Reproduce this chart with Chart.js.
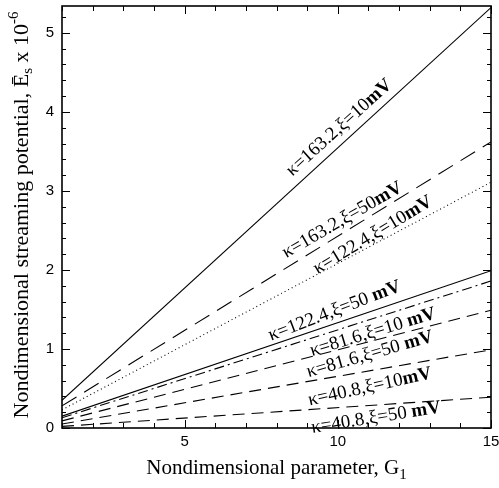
<!DOCTYPE html>
<html>
<head>
<meta charset="utf-8">
<script src="https://cdn.jsdelivr.net/npm/chart.js@4/dist/chart.umd.min.js"></script>
<style>
  html, body { margin: 0; padding: 0; background: #fff; }
</style>
</head>
<body>
<canvas id="chart" width="499" height="488"></canvas>
<script>
'use strict';

// data: straight lines from G1 = 1 to G1 = 15
var gValues = [1, 15];
var k163z10 = [0.35, 5.32];
var k163z50 = [0.28, 3.62];
var k122z10 = [0.23, 3.11];
var k122z50 = [0.15, 1.99];
var k82z10 = [0.13, 1.86];
var k82z50 = [0.09, 1.49];
var k41z10 = [0.05, 0.99];
var k41z50 = [0.02, 0.39];

var xTickLabels = [5, 10, 15];
var yTickLabels = [0, 1, 2, 3, 4, 5];

var SERIF = '"Liberation Serif", "Times New Roman", serif';
var SANS = '"Liberation Sans", Arial, sans-serif';

function points(ys) {
  return gValues.map(function (g, i) { return { x: g, y: ys[i] }; });
}

function ds(label, ys, dash) {
  return {
    label: label,
    data: points(ys),
    borderColor: '#000',
    borderWidth: 1.1,
    borderDash: dash,
    pointRadius: 0,
    fill: false,
    tension: 0
  };
}

// curve labels: [plain, bold], position in data units, angle in degrees
var curveLabels = [
  { t: ['\u03ba=163.2,\u03be=10', 'mV'], x: 10.05, y: 3.80, a: -42 },
  { t: ['\u03ba=163.2,\u03be=50', 'mV'], x: 10.15, y: 2.63, a: -30 },
  { t: ['\u03ba=122.4,\u03be=10', 'mV'], x: 11.15, y: 2.44, a: -31 },
  { t: ['\u03ba=122.4,\u03be=50 ', 'mV'], x: 9.9, y: 1.48, a: -21 },
  { t: ['\u03ba=81.6,\u03be=10 ', 'mV'], x: 11.15, y: 1.21, a: -17 },
  { t: ['\u03ba=81.6,\u03be=50 ', 'mV'], x: 11.05, y: 0.93, a: -16 },
  { t: ['\u03ba=40.8,\u03be=10', 'mV'], x: 11.05, y: 0.52, a: -12.5 },
  { t: ['\u03ba=40.8,\u03be=50 ', 'mV'], x: 11.25, y: 0.13, a: -9 }
];

function drawParts(ctx, parts, cx, cy) {
  // parts: [text, font, dy]
  var total = 0;
  parts.forEach(function (p) { ctx.font = p[1]; total += ctx.measureText(p[0]).width; });
  var x = cx - total / 2;
  parts.forEach(function (p) {
    ctx.font = p[1];
    ctx.fillText(p[0], x, cy + (p[2] || 0));
    x += ctx.measureText(p[0]).width;
  });
}

var framePlugin = {
  id: 'frame',
  afterDraw: function (chart) {
    var ctx = chart.ctx;
    var a = chart.chartArea;
    var xs = chart.scales.x;
    var ys = chart.scales.y;

    ctx.save();
    ctx.strokeStyle = '#000';
    ctx.fillStyle = '#000';
    ctx.lineWidth = 1;
    ctx.setLineDash([]);

    function seg(x1, y1, x2, y2) {
      ctx.beginPath();
      ctx.moveTo(x1, y1);
      ctx.lineTo(x2, y2);
      ctx.stroke();
    }

    // inward ticks on all four sides
    for (var g = 1; g <= 15; g++) {
      var px = Math.round(xs.getPixelForValue(g)) + 0.5;
      var len = xTickLabels.indexOf(g) >= 0 ? 8 : 5;
      seg(px, a.bottom, px, a.bottom - len);
      seg(px, a.top, px, a.top + len);
    }
    for (var k = 0; k <= 26; k++) {
      var v = k * 0.2;
      var py = Math.round(ys.getPixelForValue(v)) + 0.5;
      var major = k % 5 === 0;
      seg(a.left, py, a.left + (major ? 8 : 4), py);
      seg(a.right, py, a.right - (major ? 8 : 4), py);
    }

    ctx.lineWidth = 1.6;
    ctx.strokeRect(a.left, a.top, a.right - a.left, a.bottom - a.top);

    // tick labels
    ctx.font = '15px ' + SANS;
    ctx.textBaseline = 'middle';
    ctx.textAlign = 'center';
    xTickLabels.forEach(function (v) {
      ctx.fillText(String(v), xs.getPixelForValue(v), a.bottom + 14);
    });
    ctx.textAlign = 'right';
    yTickLabels.forEach(function (v) {
      ctx.fillText(String(v), a.left - 8, ys.getPixelForValue(v));
    });
    ctx.textAlign = 'left';

    // curve labels
    curveLabels.forEach(function (l) {
      ctx.save();
      ctx.translate(xs.getPixelForValue(l.x), ys.getPixelForValue(l.y));
      ctx.rotate(l.a * Math.PI / 180);
      drawParts(ctx, [
        [l.t[0], '19px ' + SERIF, 0],
        [l.t[1], 'bold 19px ' + SERIF, 0]
      ], 0, 0);
      ctx.restore();
    });

    // axis titles
    ctx.textBaseline = 'alphabetic';
    drawParts(ctx, [
      ['Nondimensional parameter, G', '21px ' + SERIF, 0],
      ['1', '15px ' + SERIF, 5]
    ], (a.left + a.right) / 2, 474);

    ctx.save();
    ctx.translate(28, (a.top + a.bottom) / 2 - 2);
    ctx.rotate(-Math.PI / 2);
    drawParts(ctx, [
      ['Nondimensional streaming potential, \u0112', '22px ' + SERIF, 0],
      ['s', '15px ' + SERIF, 4],
      [' x 10', '22px ' + SERIF, 0],
      ['-6', '15px ' + SERIF, -10]
    ], 0, 0);
    ctx.restore();

    ctx.restore();
  }
};

new Chart(document.getElementById('chart').getContext('2d'), {
  type: 'line',
  data: {
    datasets: [
      ds('\u03ba=163.2, \u03be=10 mV', k163z10, []),
      ds('\u03ba=163.2, \u03be=50 mV', k163z50, [17, 9]),
      ds('\u03ba=122.4, \u03be=10 mV', k122z10, [1, 3]),
      ds('\u03ba=122.4, \u03be=50 mV', k122z50, []),
      ds('\u03ba=81.6, \u03be=10 mV', k82z10, [10, 4, 2, 4]),
      ds('\u03ba=81.6, \u03be=50 mV', k82z50, [12, 7]),
      ds('\u03ba=40.8, \u03be=10 mV', k41z10, [12, 7]),
      ds('\u03ba=40.8, \u03be=50 mV', k41z50, [12, 7])
    ]
  },
  options: {
    responsive: false,
    animation: false,
    layout: { padding: { left: 0, top: 6, right: 8, bottom: 0 } },
    plugins: { legend: { display: false }, tooltip: { enabled: false } },
    scales: {
      x: {
        type: 'linear',
        min: 1,
        max: 15,
        afterFit: function (s) { s.height = 60; },
        grid: { display: false, drawTicks: false },
        border: { display: false },
        ticks: { display: false }
      },
      y: {
        type: 'linear',
        min: 0,
        max: 5.34,
        afterFit: function (s) { s.width = 62; },
        grid: { display: false, drawTicks: false },
        border: { display: false },
        ticks: { display: false }
      }
    }
  },
  plugins: [framePlugin]
});
</script>
</body>
</html>
